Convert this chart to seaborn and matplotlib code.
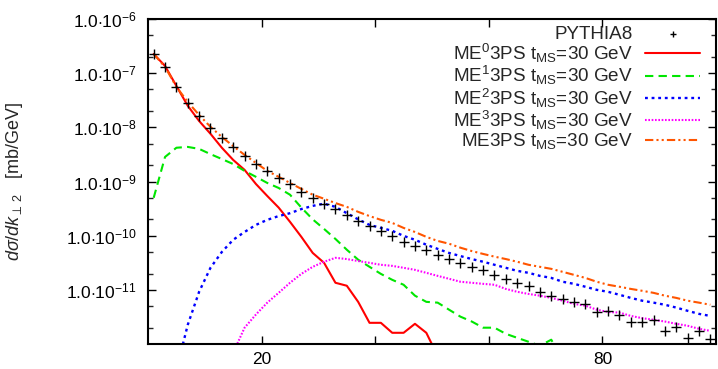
import numpy as np
import pandas as pd
import matplotlib
matplotlib.use("Agg")
import matplotlib.pyplot as plt
import seaborn as sns
from matplotlib.ticker import FixedLocator, NullFormatter

# ---------------- data ----------------
# bin centres (k_perp2, GeV)
kt = [1, 3, 5, 7, 9, 11, 13, 15, 17, 19, 21, 23, 25, 27, 29, 31, 33, 35, 37, 39,
      41, 43, 45, 47, 49, 51, 53, 55, 57, 59, 61, 63, 65, 67, 69, 71, 73, 75, 77, 79,
      81, 83, 85, 87, 89, 91, 93, 95, 97, 99]

pythia8 = [2.26e-7, 1.30e-7, 5.56e-8, 2.82e-8, 1.62e-8, 9.75e-9, 6.37e-9, 4.35e-9, 2.96e-9, 2.11e-9,
           1.57e-9, 1.16e-9, 9.03e-10, 6.43e-10, 4.98e-10, 3.86e-10, 3.12e-10, 2.42e-10, 1.88e-10, 1.52e-10,
           1.23e-10, 9.91e-11, 7.69e-11, 6.49e-11, 5.47e-11, 4.43e-11, 3.73e-11, 3.15e-11, 2.65e-11, 2.34e-11,
           1.89e-11, 1.60e-11, 1.35e-11, 1.19e-11, 9.19e-12, 7.74e-12, 6.82e-12, 6.01e-12, 5.52e-12, 3.93e-12,
           4.10e-12, 3.46e-12, 2.57e-12, 2.57e-12, 2.79e-12, 1.75e-12, 2.08e-12, 1.30e-12, 1.75e-12, 1.25e-12]

# ME^0 3PS : bins kt = 1 ... 51
me0 = [2.26e-7, 1.36e-7, 5.8e-8, 2.5e-8, 1.31e-8, 7.6e-9, 4.2e-9, 2.5e-9, 1.64e-9, 9.0e-10,
       5.4e-10, 3.3e-10, 1.8e-10, 9.5e-11, 4.8e-11, 3.15e-11, 1.35e-11, 1.19e-11, 6.0e-12, 2.46e-12,
       2.46e-12, 1.61e-12, 1.61e-12, 2.36e-12, 1.61e-12, 6.0e-13]

# ME^1 3PS : bins kt = 1 ... 73
me1 = [5.0e-10, 2.84e-9, 4.2e-9, 4.35e-9, 4.0e-9, 3.2e-9, 2.6e-9, 2.1e-9, 1.57e-9, 1.22e-9,
       9.4e-10, 7.6e-10, 5.7e-10, 3.3e-10, 2.0e-10, 1.33e-10, 8.7e-11, 5.5e-11, 3.6e-11, 2.66e-11,
       1.97e-11, 1.53e-11, 1.24e-11, 7.8e-12, 6.0e-12, 5.8e-12, 4.3e-12, 3.2e-12, 2.6e-12, 2.0e-12,
       2.0e-12, 1.54e-12, 1.30e-12, 1.10e-12, 9.3e-13, 1.2e-12, 5.0e-13]

# ME^2 3PS : bins kt = 5 ... 99
me2 = [3.3e-13, 2.26e-12, 9.2e-12, 2.55e-11, 5.0e-11, 8.4e-11, 1.17e-10, 1.58e-10, 1.96e-10, 2.3e-10,
       2.6e-10, 3.1e-10, 3.55e-10, 3.9e-10, 3.4e-10, 2.6e-10, 2.0e-10, 1.58e-10, 1.39e-10, 1.23e-10,
       9.9e-11, 8.4e-11, 6.8e-11, 5.7e-11, 4.8e-11, 4.2e-11, 3.7e-11, 3.3e-11, 2.9e-11, 2.55e-11,
       2.24e-11, 2.06e-11, 1.81e-11, 1.66e-11, 1.41e-11, 1.29e-11, 1.14e-11, 1.0e-11, 9.2e-12, 8.1e-12,
       7.1e-12, 6.3e-12, 5.8e-12, 5.3e-12, 4.7e-12, 4.1e-12, 3.6e-12, 3.3e-12]

# ME^3 3PS : bins kt = 15 ... 99
me3 = [6.9e-13, 2.0e-12, 3.5e-12, 5.8e-12, 8.8e-12, 1.35e-11, 1.97e-11, 2.66e-11, 3.3e-11, 3.9e-11,
       3.7e-11, 3.4e-11, 3.15e-11, 2.9e-11, 2.77e-11, 2.55e-11, 2.34e-11, 2.06e-11, 1.81e-11, 1.6e-11,
       1.41e-11, 1.35e-11, 1.29e-11, 1.24e-11, 1.04e-11, 9.2e-12, 8.4e-12, 7.8e-12, 7.1e-12, 6.3e-12,
       5.5e-12, 5.1e-12, 4.3e-12, 3.9e-12, 3.8e-12, 3.3e-12, 3.0e-12, 2.8e-12, 2.6e-12, 2.36e-12,
       2.17e-12, 1.91e-12, 1.75e-12]

# ME3PS (sum) : bins kt = 1 ... 99
me_all = [2.26e-7, 1.30e-7, 5.6e-8, 2.94e-8, 1.69e-8, 1.02e-8, 6.65e-9, 4.5e-9, 3.1e-9, 2.2e-9,
          1.57e-9, 1.22e-9, 9.4e-10, 7.3e-10, 5.7e-10, 4.8e-10, 4.0e-10, 3.4e-10, 2.75e-10, 2.3e-10,
          1.96e-10, 1.72e-10, 1.39e-10, 1.17e-10, 9.5e-11, 8.0e-11, 7.1e-11, 6.0e-11, 5.2e-11, 4.6e-11,
          4.1e-11, 3.7e-11, 3.3e-11, 2.9e-11, 2.66e-11, 2.44e-11, 2.15e-11, 1.89e-11, 1.66e-11, 1.41e-11,
          1.24e-11, 1.14e-11, 1.04e-11, 9.6e-12, 8.8e-12, 7.8e-12, 7.1e-12, 6.3e-12, 5.8e-12, 5.3e-12]

labels = ["PYTHIA8",
          r"ME$^{0}$3PS t$_{\rm MS}$=30 GeV",
          r"ME$^{1}$3PS t$_{\rm MS}$=30 GeV",
          r"ME$^{2}$3PS t$_{\rm MS}$=30 GeV",
          r"ME$^{3}$3PS t$_{\rm MS}$=30 GeV",
          r"ME3PS t$_{\rm MS}$=30 GeV"]
xtick_vals = [20, 40, 60, 80]
xtick_labels = ["20", "", "", "80"]
ytick_vals = [1e-6, 1e-7, 1e-8, 1e-9, 1e-10, 1e-11]
ytick_labels = [r"$1.0{\cdot}10^{-6}$", r"$1.0{\cdot}10^{-7}$", r"$1.0{\cdot}10^{-8}$",
                r"$1.0{\cdot}10^{-9}$", r"$1.0{\cdot}10^{-10}$", r"$1.0{\cdot}10^{-11}$"]

# ---------------- style ----------------
sns.set_theme(style="ticks")
plt.rcParams["font.family"] = ["Liberation Sans", "DejaVu Sans"]
plt.rcParams["mathtext.fontset"] = "custom"
plt.rcParams["mathtext.rm"] = "Liberation Sans"
plt.rcParams["mathtext.it"] = "Liberation Sans:italic"
plt.rcParams["mathtext.sf"] = "Liberation Sans"

fig = plt.figure(figsize=(7.18, 3.69), dpi=100)
ax = fig.add_axes([148 / 718, 1 - 344 / 369, (716 - 148) / 718, (344 - 19) / 369])

n0, n1, n2, n3 = len(me0), len(me1), len(me2), len(me3)
series = [
    (kt[:n0], me0, "#ff0000", (None, None), 1.5),
    (kt[:n1], me1, "#00e600", (4, 2.5), 1.5),
    (kt[2:2 + n2], me2, "#0000ff", (1.2, 1.6), 1.7),
    (kt[7:7 + n3], me3, "#ff00ff", (0.8, 0.8), 1.5),
    (kt, me_all, "#ff5500", (4, 1.5, 1, 1.5, 1, 1.5), 1.5),
]

ax.set_yscale("log")
sns.scatterplot(x=kt, y=pythia8, marker="+", color="black", s=45, linewidth=1.0,
                ax=ax, label=labels[0], zorder=5)
for (xs, ys, col, dash, lw), lab in zip(series, labels[1:]):
    sns.lineplot(x=xs, y=ys, color=col, lw=lw, ax=ax, label=lab, estimator=None,
                 sort=False)
    l = ax.get_lines()[-1]
    if dash[0] is not None:
        l.set_dashes(dash)

ax.set_xlim(0, 100)
ax.set_ylim(1e-12, 1e-6)

ax.xaxis.set_major_locator(FixedLocator(xtick_vals))
ax.set_xticklabels(xtick_labels)
ax.yaxis.set_major_locator(FixedLocator(ytick_vals))
ax.set_yticklabels(ytick_labels)
minors = []
for e in range(-12, -6):
    minors += [2 * 10.0 ** e, 5 * 10.0 ** e]
ax.yaxis.set_minor_locator(FixedLocator(minors))
ax.yaxis.set_minor_formatter(NullFormatter())

ax.tick_params(axis="both", which="major", direction="in", length=6, width=1.0,
               top=True, right=True, labelsize=12.5, pad=8, colors="black")
ax.tick_params(axis="y", which="minor", direction="in", length=3.5, width=1.0,
               right=True, left=True)
ax.tick_params(axis="x", which="major", pad=6)
for s in ax.spines.values():
    s.set_linewidth(1.5)
    s.set_color("black")

ax.set_xlabel("")
ax.set_ylabel(r"$d\sigma/dk_{\perp\,2}$   [mb/GeV]", fontsize=13, labelpad=30)

leg = ax.legend(loc="upper right", bbox_to_anchor=(0.972, 0.98), frameon=False,
                markerfirst=False, fontsize=13.6, handlelength=2.9, handletextpad=0.65,
                labelspacing=-0.04, borderaxespad=0.0, borderpad=0.0)
leg.legend_handles[0].set_sizes([22])

fig.savefig("out.png", dpi=100)
